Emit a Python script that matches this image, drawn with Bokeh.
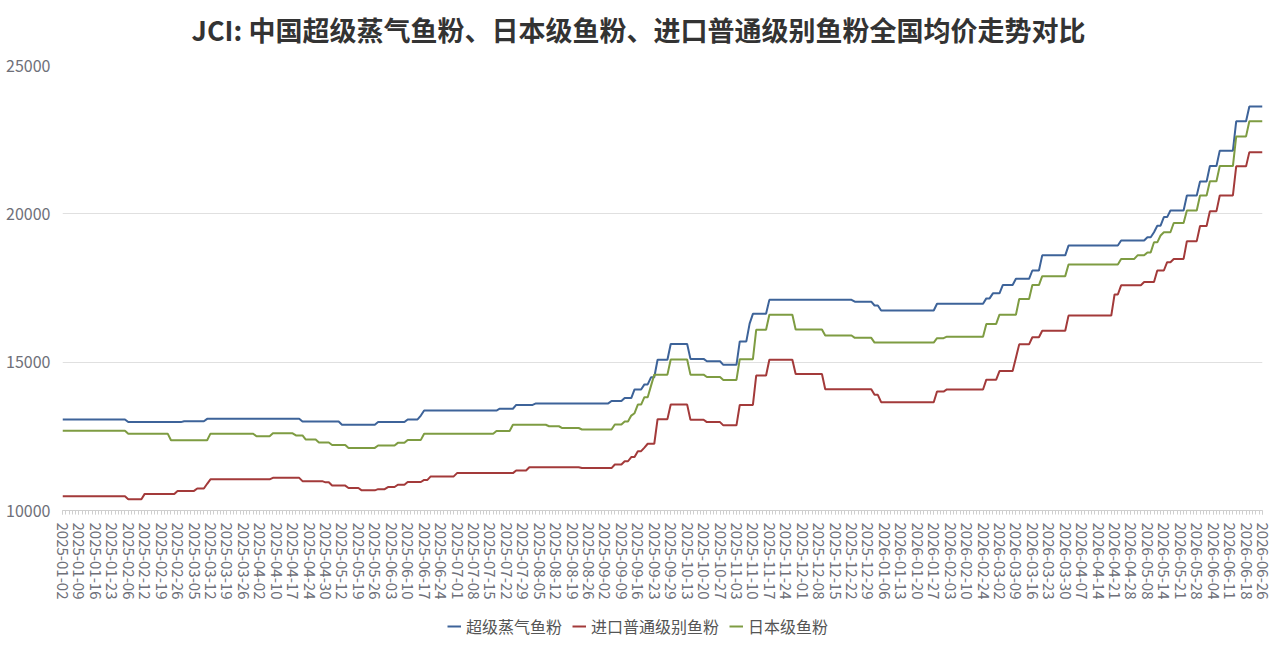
import math
from bokeh.plotting import figure
from bokeh.layouts import column
from bokeh.models import Range1d, FixedTicker, Legend, LegendItem, Label
from bokeh.embed import file_html
from bokeh.resources import INLINE

# ---- data -------------------------------------------------------------
N_DAYS = 366  # trading days, label every 5th day

title_text = "JCI: 中国超级蒸气鱼粉、日本级鱼粉、进口普通级别鱼粉全国均价走势对比"

tick_labels = [
    "2025-01-02", "2025-01-09", "2025-01-16", "2025-01-23", "2025-02-06", "2025-02-12",
    "2025-02-19", "2025-02-26", "2025-03-05", "2025-03-12", "2025-03-19", "2025-03-26",
    "2025-04-02", "2025-04-10", "2025-04-17", "2025-04-24", "2025-04-30", "2025-05-12",
    "2025-05-19", "2025-05-26", "2025-06-03", "2025-06-10", "2025-06-17", "2025-06-24",
    "2025-07-01", "2025-07-08", "2025-07-15", "2025-07-22", "2025-07-29", "2025-08-05",
    "2025-08-12", "2025-08-19", "2025-08-26", "2025-09-02", "2025-09-09", "2025-09-16",
    "2025-09-23", "2025-09-29", "2025-10-13", "2025-10-20", "2025-10-27", "2025-11-03",
    "2025-11-10", "2025-11-17", "2025-11-24", "2025-12-01", "2025-12-08", "2025-12-15",
    "2025-12-22", "2025-12-29", "2026-01-06", "2026-01-13", "2026-01-20", "2026-01-27",
    "2026-02-03", "2026-02-10", "2026-02-24", "2026-03-02", "2026-03-09", "2026-03-16",
    "2026-03-23", "2026-03-30", "2026-04-07", "2026-04-14", "2026-04-21", "2026-04-28",
    "2026-05-08", "2026-05-14", "2026-05-21", "2026-05-28", "2026-06-04", "2026-06-11",
    "2026-06-18", "2026-06-26",
]

# price changes: (trading-day index where the new price starts, price)
super_steam_steps = [
    (0, 13070), (20, 12980), (37, 13010), (44, 13090), (73, 13000), (85, 12890),
    (96, 12980), (105, 13070), (109, 13200), (110, 13370), (133, 13430), (138, 13560),
    (144, 13610), (167, 13690), (171, 13790), (174, 14080), (177, 14250), (179, 14490),
    (181, 15080), (185, 15610), (191, 15110), (196, 15030), (201, 14910), (206, 15700),
    (209, 16300), (210, 16630), (215, 17100), (241, 17040), (247, 16910), (249, 16740),
    (266, 16970), (281, 17150), (283, 17320), (286, 17600), (290, 17810), (295, 18090),
    (298, 18600), (306, 18930), (322, 19100), (330, 19210), (332, 19380), (333, 19600),
    (335, 19890), (337, 20110), (342, 20620), (346, 21090), (349, 21610), (352, 22130),
    (357, 23120), (361, 23620),
]

import_std_steps = [
    (0, 10480), (20, 10380), (25, 10560), (35, 10660), (41, 10740), (44, 10900),
    (45, 11050), (64, 11100), (73, 10990), (80, 10950), (82, 10840), (87, 10760),
    (91, 10680), (96, 10720), (99, 10790), (102, 10870), (105, 10960), (110, 11030),
    (112, 11150), (120, 11260), (138, 11350), (142, 11460), (158, 11430), (168, 11550),
    (171, 11660), (173, 11800), (175, 12000), (177, 12120), (178, 12250), (181, 13080),
    (185, 13570), (191, 13060), (196, 12980), (201, 12870), (206, 13560), (211, 14550),
    (215, 15080), (223, 14600), (232, 14090), (247, 13900), (249, 13650), (266, 14010),
    (269, 14080), (281, 14410), (285, 14700), (290, 15150), (291, 15600), (295, 15840),
    (298, 16060), (306, 16570), (320, 17280), (322, 17590), (329, 17700), (333, 18090),
    (336, 18370), (338, 18480), (342, 19080), (346, 19590), (349, 20090), (352, 20620),
    (357, 21600), (361, 22080),
]

japan_steps = [
    (0, 12690), (20, 12590), (33, 12370), (45, 12590), (59, 12500), (64, 12600),
    (71, 12530), (74, 12390), (78, 12290), (82, 12210), (87, 12110), (96, 12190),
    (102, 12280), (105, 12380), (110, 12590), (132, 12680), (137, 12890), (148, 12840),
    (152, 12780), (158, 12730), (168, 12900), (171, 13000), (173, 13200), (174, 13280),
    (175, 13570), (177, 13820), (179, 14200), (180, 14580), (185, 15090), (191, 14580),
    (196, 14500), (201, 14400), (206, 15100), (211, 16090), (215, 16600), (223, 16100),
    (232, 15900), (241, 15820), (247, 15660), (266, 15810), (269, 15860), (281, 16290),
    (285, 16600), (291, 17130), (295, 17600), (298, 17900), (306, 18290), (322, 18480),
    (327, 18600), (330, 18700), (332, 19040), (334, 19270), (335, 19380), (338, 19690),
    (342, 20110), (346, 20620), (349, 21100), (352, 21610), (357, 22610), (361, 23120),
]

series_names = ["超级蒸气鱼粉", "进口普通级别鱼粉", "日本级鱼粉"]
series_colors = ["#3d6399", "#a33a3a", "#7e9c42"]


def daily(steps, n=N_DAYS):
    """Decode the price-change list into one price per trading day."""
    out = []
    k = 0
    for i in range(n):
        while k + 1 < len(steps) and steps[k + 1][0] <= i:
            k += 1
        out.append(steps[k][1])
    return out


days = list(range(N_DAYS))
series_values = [daily(super_steam_steps), daily(import_std_steps), daily(japan_steps)]

FONT = "Noto Sans CJK SC"
W = 1274


def strip(height):
    f = figure(
        width=W, height=height,
        output_backend="svg", toolbar_location=None,
        x_range=Range1d(0, 1), y_range=Range1d(0, 1),
        x_axis_location=None, y_axis_location=None,
        min_border_left=0, min_border_right=0, min_border_top=0, min_border_bottom=0,
    )
    f.outline_line_color = None
    f.xgrid.visible = False
    f.ygrid.grid_line_color = None
    return f


# ---- title strip ------------------------------------------------------
tf = strip(50)
tf.add_layout(Label(
    x=576, y=21, x_units="screen", y_units="screen",
    text=title_text, text_align="center", text_baseline="middle",
    text_font=FONT, text_font_size="27px", text_font_style="bold",
    text_color="#333333",
))

# ---- main figure ------------------------------------------------------
p = figure(
    width=W, height=560,
    output_backend="svg", toolbar_location=None,
    x_range=Range1d(0, N_DAYS - 1), y_range=Range1d(10000, 25000),
    min_border_left=62, min_border_right=12, min_border_top=15, min_border_bottom=100,
)
p.outline_line_color = None
p.background_fill_color = "white"
p.border_fill_color = "white"

for vals, color in zip(series_values, series_colors):
    p.line(days, vals, line_color=color, line_width=2)

# x axis
xa = p.xaxis[0]
xa.ticker = FixedTicker(ticks=list(range(0, N_DAYS, 5)), minor_ticks=days)
xa.major_label_overrides = {i * 5: lab for i, lab in enumerate(tick_labels)}
xa.major_label_orientation = -math.pi / 2
xa.major_label_text_font = FONT
xa.major_label_text_font_size = "15px"
xa.major_label_text_color = "#6e7079"
xa.major_label_standoff = 8
xa.axis_line_color = "#cfcfcf"
xa.major_tick_line_color = "#cfcfcf"
xa.minor_tick_line_color = "#cfcfcf"
xa.major_tick_in = 0
xa.major_tick_out = 4
xa.minor_tick_in = 0
xa.minor_tick_out = 4

# y axis
ya = p.yaxis[0]
ya.ticker = FixedTicker(ticks=[10000, 15000, 20000, 25000])
ya.major_label_text_font = FONT
ya.major_label_text_font_size = "16px"
ya.major_label_text_color = "#6e7079"
ya.axis_line_color = None
ya.major_tick_line_color = None
ya.minor_tick_line_color = None
ya.major_label_standoff = 6

p.xgrid.visible = False
p.ygrid.grid_line_color = "#e0e0e0"
p.ygrid.grid_line_width = 1

# ---- legend strip (keys drawn from the same series, out of its view) ----
lg = strip(36)
key_renderers = [lg.line(days, vals, line_color=c, line_width=2)
                 for vals, c in zip(series_values, series_colors)]
legend = Legend(
    items=[LegendItem(label=n, renderers=[r]) for n, r in zip(series_names, key_renderers)],
    orientation="horizontal",
    location=(385, 8),
    glyph_width=14, glyph_height=16,
    label_standoff=5, spacing=10, padding=6, margin=0,
    label_text_font=FONT, label_text_font_size="16px", label_text_color="#555555",
    border_line_color=None, background_fill_alpha=0,
)
lg.add_layout(legend, "center")

page = column(tf, p, lg, spacing=0)

open("out.html", "w").write(file_html(page, INLINE))
